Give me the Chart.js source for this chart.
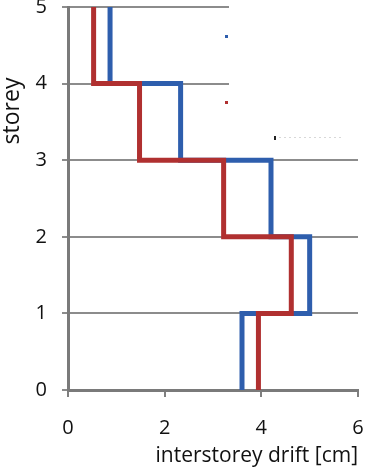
<!DOCTYPE html>
<html>
<head>
<meta charset="utf-8">
<script src="https://cdn.jsdelivr.net/npm/chart.js@4"></script>
<style>
  body { margin: 0; background: #fff; }
  #wrap { width: 368px; height: 471px; }
</style>
</head>
<body>
<div id="wrap"><canvas id="driftChart"></canvas></div>
<script>
// storey levels and interstorey drift per storey (storey 0-1 first)
const storeys = [0, 1, 2, 3, 4, 5];
const driftBlue = [3.6, 5.0, 4.2, 2.33, 0.87];
const driftRed = [3.94, 4.62, 3.22, 1.48, 0.53];
const xTicks = [0, 2, 4, 6];
const xTitle = 'interstorey drift [cm]';
const yTitle = 'storey';

// each storey drift is a vertical segment from storey i to storey i+1
function stepPoints(drift) {
    const pts = [];
    drift.forEach((d, i) => {
        pts.push({ x: d, y: storeys[i] });
        pts.push({ x: d, y: storeys[i + 1] });
    });
    return pts;
}

const fontFamily = '"Open Sans", sans-serif';

// blank legend box (top right) with its small markers, plus the y title
const legendBox = {
    id: 'legendBox',
    beforeDatasetsDraw(chart) {
        const ctx = chart.ctx;
        ctx.save();
        ctx.fillStyle = '#ffffff';
        ctx.fillRect(229, 0, 134, 152);
        ctx.fillStyle = '#2e5ead';
        ctx.fillRect(225, 35, 3, 3);
        ctx.fillStyle = '#b03030';
        ctx.fillRect(225, 101, 3, 3);
        ctx.fillStyle = '#222';
        ctx.fillRect(274, 136, 2, 4);
        ctx.strokeStyle = '#d8d8d8';
        ctx.setLineDash([2, 3]);
        ctx.beginPath();
        ctx.moveTo(279, 137.5);
        ctx.lineTo(343, 137.5);
        ctx.stroke();
        ctx.restore();
    },
    afterDraw(chart) {
        const ctx = chart.ctx;
        ctx.save();
        ctx.translate(12, 111);
        ctx.rotate(-Math.PI / 2);
        ctx.fillStyle = '#111';
        ctx.font = '23px ' + fontFamily;
        ctx.textAlign = 'center';
        ctx.textBaseline = 'middle';
        ctx.fillText(yTitle, 0, 0);
        ctx.restore();
    }
};

new Chart(document.getElementById('driftChart'), {
    type: 'scatter',
    data: {
        datasets: [{
            label: 'blue',
            data: stepPoints(driftBlue),
            showLine: true,
            borderColor: '#2e5ead',
            borderWidth: 5,
            pointRadius: 0,
            borderJoinStyle: 'miter',
            order: 1
        }, {
            label: 'red',
            data: stepPoints(driftRed),
            showLine: true,
            borderColor: '#b03030',
            borderWidth: 5,
            pointRadius: 0,
            borderJoinStyle: 'miter',
            order: 0
        }]
    },
    options: {
        responsive: true,
        maintainAspectRatio: false,
        animation: false,
        layout: { padding: { left: 0, right: 10, top: 0, bottom: 0 } },
        plugins: {
            legend: { display: false },
            tooltip: { enabled: false }
        },
        scales: {
            x: {
                type: 'linear',
                min: 0,
                max: 6,
                afterBuildTicks: s => { s.ticks = xTicks.map(v => ({ value: v })); },
                afterFit: s => {
                    s.height = 81;
                    s.paddingLeft = 0;
                    s.paddingRight = 0;
                },
                ticks: {
                    color: '#111',
                    padding: 19,
                    maxRotation: 0,
                    font: { size: 20, family: fontFamily }
                },
                grid: {
                    drawOnChartArea: false,
                    drawTicks: true,
                    tickLength: 7,
                    color: '#7f7f7f',
                    lineWidth: 2
                },
                border: { color: '#7a7a7a', width: 3 },
                title: {
                    display: true,
                    text: xTitle,
                    align: 'end',
                    color: '#111',
                    padding: { top: 0, bottom: 2 },
                    font: { size: 21, family: fontFamily }
                }
            },
            y: {
                type: 'linear',
                min: 0,
                max: 5,
                afterBuildTicks: s => { s.ticks = storeys.map(v => ({ value: v })); },
                afterFit: s => {
                    s.width = 68;
                    s.paddingTop = 7;
                    s.paddingBottom = 0;
                },
                ticks: {
                    color: '#111',
                    padding: 15,
                    font: { size: 20, family: fontFamily }
                },
                grid: {
                    color: '#8c8c8c',
                    lineWidth: 2,
                    tickLength: 6
                },
                border: { color: '#7a7a7a', width: 3 }
            }
        }
    },
    plugins: [legendBox]
});
</script>
</body>
</html>
